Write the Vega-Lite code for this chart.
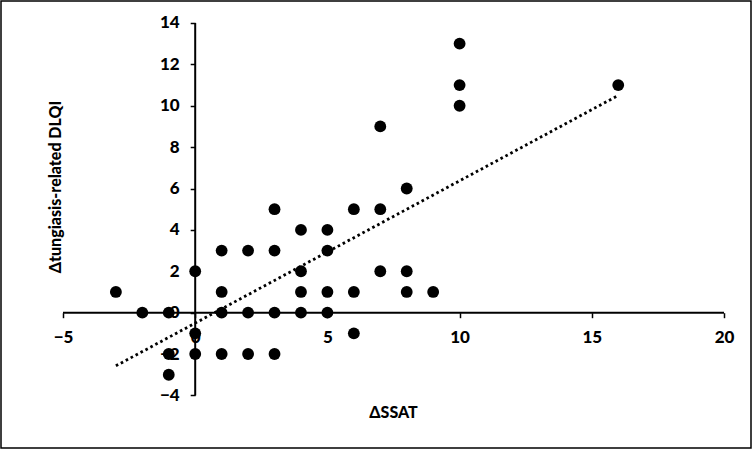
{
  "$schema": "https://vega.github.io/schema/vega-lite/v6.json",
  "width": 750,
  "height": 447,
  "autosize": {"type": "none"},
  "padding": {"left": 1, "top": 1, "right": 1, "bottom": 3},
  "background": "white",
  "config": {
    "view": {"stroke": "#000", "strokeWidth": 1.5},
    "font": "Lato",
    "axis": {
      "domain": false,
      "grid": false,
      "tickColor": "#000",
      "tickWidth": 1.5,
      "tickSize": 5,
      "labelColor": "#000",
      "labelFont": "Lato",
      "labelFontWeight": 900,
      "labelFontSize": 17,
      "titleColor": "#000",
      "titleFont": "Lato",
      "titleFontWeight": 900,
      "titleFontSize": 16
    }
  },
  "datasets": {
    "points": [
      {"dSSAT": -3, "dDLQI": 1}, {"dSSAT": -2, "dDLQI": 0}, {"dSSAT": -1, "dDLQI": 0},
      {"dSSAT": -1, "dDLQI": -2}, {"dSSAT": -1, "dDLQI": -3}, {"dSSAT": 0, "dDLQI": 2},
      {"dSSAT": 0, "dDLQI": -1}, {"dSSAT": 0, "dDLQI": -2}, {"dSSAT": 1, "dDLQI": 3},
      {"dSSAT": 1, "dDLQI": 1}, {"dSSAT": 1, "dDLQI": 0}, {"dSSAT": 1, "dDLQI": -2},
      {"dSSAT": 2, "dDLQI": 3}, {"dSSAT": 2, "dDLQI": 0}, {"dSSAT": 2, "dDLQI": -2},
      {"dSSAT": 3, "dDLQI": 5}, {"dSSAT": 3, "dDLQI": 3}, {"dSSAT": 3, "dDLQI": 0},
      {"dSSAT": 3, "dDLQI": -2}, {"dSSAT": 4, "dDLQI": 4}, {"dSSAT": 4, "dDLQI": 2},
      {"dSSAT": 4, "dDLQI": 1}, {"dSSAT": 4, "dDLQI": 0}, {"dSSAT": 5, "dDLQI": 4},
      {"dSSAT": 5, "dDLQI": 3}, {"dSSAT": 5, "dDLQI": 1}, {"dSSAT": 5, "dDLQI": 0},
      {"dSSAT": 6, "dDLQI": 5}, {"dSSAT": 6, "dDLQI": 1}, {"dSSAT": 6, "dDLQI": -1},
      {"dSSAT": 7, "dDLQI": 9}, {"dSSAT": 7, "dDLQI": 5}, {"dSSAT": 7, "dDLQI": 2},
      {"dSSAT": 8, "dDLQI": 6}, {"dSSAT": 8, "dDLQI": 2}, {"dSSAT": 8, "dDLQI": 1},
      {"dSSAT": 9, "dDLQI": 1}, {"dSSAT": 10, "dDLQI": 13}, {"dSSAT": 10, "dDLQI": 11},
      {"dSSAT": 10, "dDLQI": 10}, {"dSSAT": 16, "dDLQI": 11}
    ],
    "trend": [
      {"dSSAT": -3, "dDLQI": -2.57},
      {"dSSAT": 16, "dDLQI": 10.5}
    ],
    "axislines": [
      {"x": -5, "x2": 20, "y": 0, "y2": 0},
      {"x": 0, "x2": 0, "y": -4, "y2": 14}
    ]
  },
  "layer": [
    {
      "data": {"name": "axislines"},
      "mark": {"type": "rule", "color": "#000", "strokeWidth": 2},
      "encoding": {
        "x": {"field": "x", "type": "quantitative", "scale": {"domain": [-7.345, 21.021], "nice": false, "zero": false}},
        "x2": {"field": "x2"},
        "y": {"field": "y", "type": "quantitative", "scale": {"domain": [-6.542, 15.063], "nice": false, "zero": false}},
        "y2": {"field": "y2"}
      }
    },
    {
      "data": {"name": "trend"},
      "mark": {"type": "line", "color": "#000", "strokeWidth": 2.8, "strokeDash": [2.6, 3]},
      "encoding": {
        "x": {"field": "dSSAT", "type": "quantitative"},
        "y": {"field": "dDLQI", "type": "quantitative"}
      }
    },
    {
      "data": {"name": "points"},
      "mark": {"type": "point", "filled": true, "color": "#000", "opacity": 1, "size": 140},
      "encoding": {
        "x": {
          "field": "dSSAT", "type": "quantitative",
          "axis": {
            "orient": "bottom", "offset": -135.3,
            "values": [-5, 0, 5, 10, 15, 20],
            "labelPadding": 12,
            "title": "ΔSSAT",
            "titleX": 392, "titleY": 99.3, "titleBaseline": "middle", "titleAlign": "center"
          }
        },
        "y": {
          "field": "dDLQI", "type": "quantitative",
          "axis": {
            "orient": "left", "offset": -194.2,
            "values": [-4, -2, 0, 2, 4, 6, 8, 10, 12, 14],
            "labelPadding": 11,
            "title": "Δtungiasis-related DLQI",
            "titleX": -140.2, "titleY": 185.5, "titleAngle": -90, "titleBaseline": "middle", "titleAlign": "center"
          }
        }
      }
    }
  ]
}
